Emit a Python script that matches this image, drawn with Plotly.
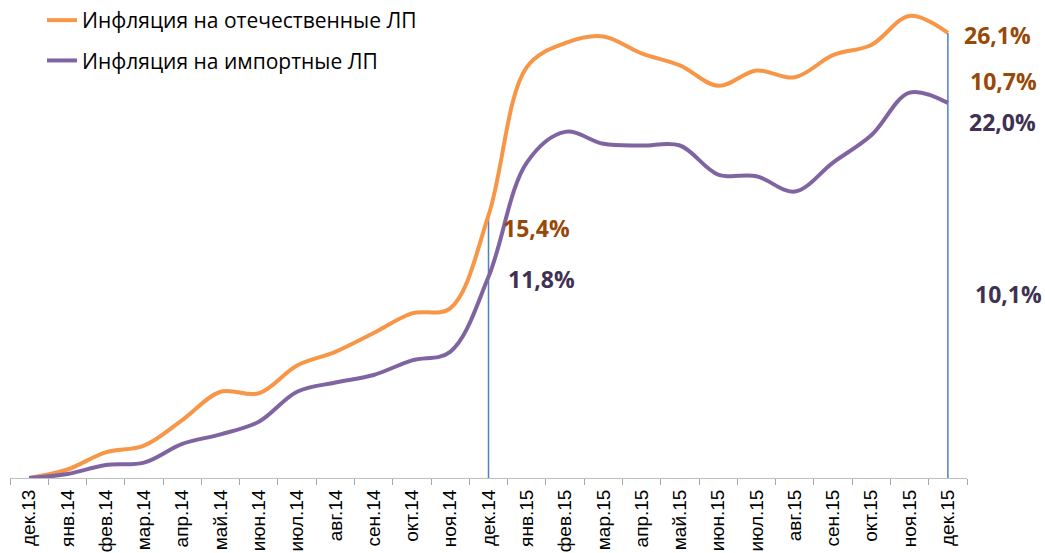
import plotly.graph_objects as go

months = ["дек.13", "янв.14", "фев.14", "мар.14", "апр.14", "май.14", "июн.14",
          "июл.14", "авг.14", "сен.14", "окт.14", "ноя.14", "дек.14",
          "янв.15", "фев.15", "мар.15", "апр.15", "май.15", "июн.15",
          "июл.15", "авг.15", "сен.15", "окт.15", "ноя.15", "дек.15"]

domestic = [0.0, 0.5, 1.5, 1.9, 3.4, 5.06, 4.97, 6.6, 7.4, 8.5, 9.66, 9.95, 15.4,
            24.1, 25.5, 25.9, 24.9, 24.2, 23.0, 23.9, 23.5, 24.8, 25.4, 27.1, 26.1]

imported = [0.0, 0.23, 0.76, 0.9, 2.0, 2.56, 3.3, 5.06, 5.6, 6.04, 6.9, 7.4, 11.8,
            18.5, 20.3, 19.6, 19.5, 19.5, 17.8, 17.7, 16.8, 18.5, 20.1, 22.6, 22.0]

name_dom = "Инфляция на отечественные ЛП"
name_imp = "Инфляция на импортные ЛП"

marker_months = ["дек.14", "дек.15"]

label_texts = ["26,1%", "10,7%", "22,0%", "15,4%", "11,8%", "10,1%"]

ORANGE = "#F79646"
PURPLE = "#8064A2"
ORANGE_TXT = "#984807"
PURPLE_TXT = "#3F3151"
BLUE = "#4F81BD"

W, H = 1045, 553
ml, mr, mt, mb = 10, 1045 - 967, 0, 553 - 478
pw, ph = W - ml - mr, H - mt - mb

fig = go.Figure()

for m in marker_months:
    v = domestic[months.index(m)]
    fig.add_trace(go.Scatter(x=[m, m], y=[0, v], mode="lines",
                             line=dict(color=BLUE, width=1.5),
                             showlegend=False, hoverinfo="skip"))

fig.add_trace(go.Scatter(x=months, y=domestic, name=name_dom, mode="lines",
                         line=dict(color=ORANGE, width=4, shape="spline", smoothing=1),
                         legendgroup="a"))
fig.add_trace(go.Scatter(x=months, y=imported, name=name_imp, mode="lines",
                         line=dict(color=PURPLE, width=4, shape="spline", smoothing=1),
                         legendgroup="b"))

# label placements in page pixels
annos = [
    dict(text=label_texts[0], x=998, y=35, color=ORANGE_TXT),
    dict(text=label_texts[1], x=1003, y=81, color=ORANGE_TXT),
    dict(text=label_texts[2], x=1002, y=122, color=PURPLE_TXT),
    dict(text=label_texts[3], x=536, y=228, color=ORANGE_TXT),
    dict(text=label_texts[4], x=541, y=279, color=PURPLE_TXT),
    dict(text=label_texts[5], x=1008, y=294, color=PURPLE_TXT),
]
for a in annos:
    fig.add_annotation(text="<b>%s</b>" % a["text"], xref="paper", yref="paper",
                       x=(a["x"] - ml) / pw, y=1 - (a["y"] - mt) / ph,
                       xanchor="center", yanchor="middle", showarrow=False,
                       font=dict(family="Open Sans", size=23, color=a["color"]))

ymax = ph / 17.05
fig.update_layout(
    width=W, height=H,
    margin=dict(l=ml, r=mr, t=mt, b=mb, autoexpand=False),
    paper_bgcolor="white", plot_bgcolor="white",
    showlegend=True,
    legend=dict(x=(42 - ml) / pw, y=1, xanchor="left", yanchor="top",
                font=dict(family="Open Sans", size=21, color="#000000"),
                tracegroupgap=10, bgcolor="rgba(0,0,0,0)"),
    xaxis=dict(type="category", categoryorder="array", categoryarray=months,
               tickson="boundaries", ticks="outside", ticklen=6, tickcolor="#A6A6A6",
               showline=True, linecolor="#BFBFBF", linewidth=1, showgrid=False,
               tickangle=-90, ticklabelstandoff=3, automargin=False,
               tickfont=dict(family="Liberation Sans", size=19, color="#000000"),
               range=[-0.5, len(months) - 0.5], zeroline=False),
    yaxis=dict(range=[0, ymax], visible=False, showgrid=False, zeroline=False),
)

fig.write_html("out.html", config={"displayModeBar": False},
               post_script="document.body.style.margin='0';document.body.style.overflow='hidden';")
